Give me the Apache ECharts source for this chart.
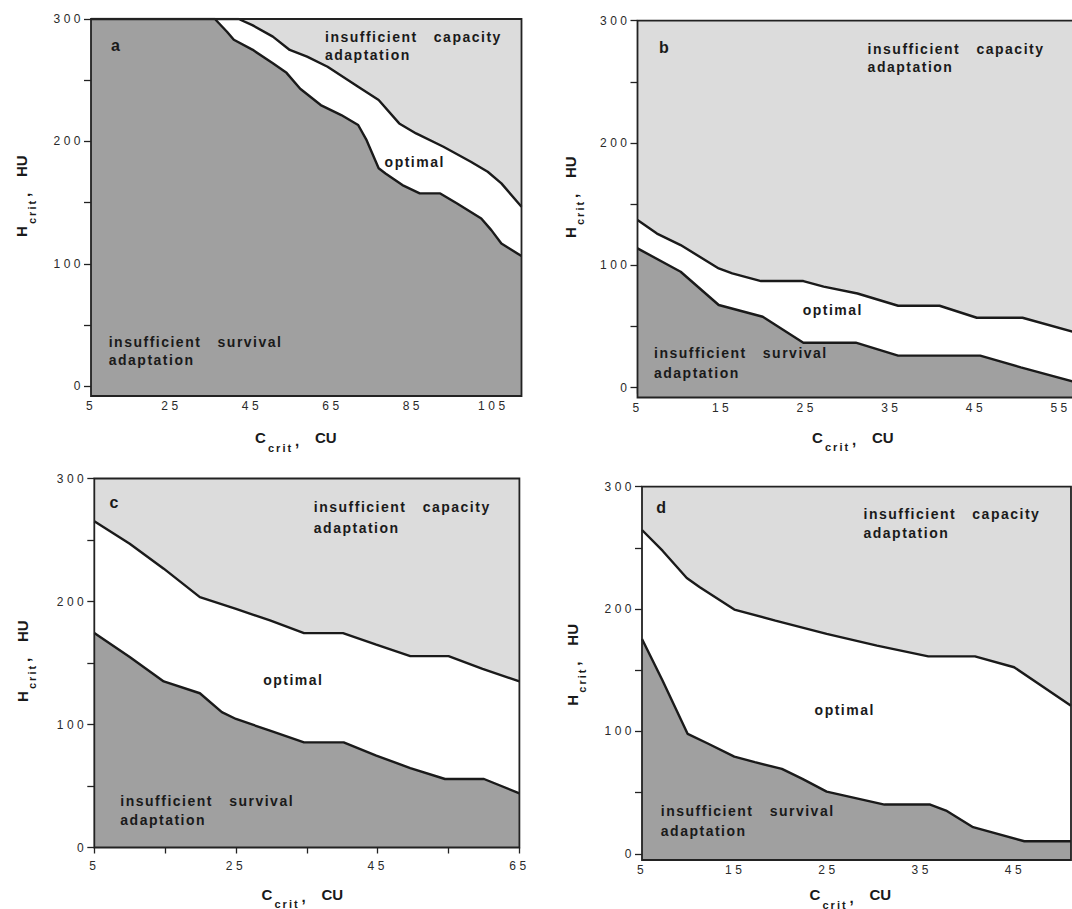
<!DOCTYPE html>
<html>
<head>
<meta charset="utf-8">
<title>Critical thresholds</title>
<script src="https://cdn.jsdelivr.net/npm/echarts@6/dist/echarts.min.js"></script>
<style>
  html, body { margin: 0; padding: 0; background: #fff; }
  #main { width: 1072px; height: 909px; }
</style>
</head>
<body>
<div id="main"></div>
<script>
// Boundary curves, [C_crit (CU), H_crit (HU)]
// Panel a
const aUpper = [[5,300],[41.7,300],[45.1,295],[50.2,285.6],[54.4,274.7],[58.7,269.2],[63.8,261],[71.4,244.7],[76.5,233.8],[81.6,214.7],[85.8,206.5],[92.6,195.6],[99.4,183.4],[103.6,175.2],[107,165.7],[112,146.6]];
const aLower = [[5,300],[35.8,300],[38.8,289.6],[40.5,283],[45.1,275],[50.2,263.8],[53.6,256],[57,243],[62.1,229.7],[67.2,221.5],[71.4,213.4],[73.5,201],[76.5,178],[78.2,173.8],[82.4,164.3],[86.7,157.5],[91.8,157.5],[96,149.3],[102,137],[104.5,127.5],[107,116.6],[112,106.3]];
// Panel b
const bUpper = [[5,137],[7.3,126],[10.1,116.6],[14.6,97.5],[16.2,93.5],[19.6,87.2],[24.6,87.2],[27,82.6],[31,77],[35.8,67],[40.7,67],[45.1,57.2],[50.5,57.2],[56.4,45.8]];
const bLower = [[5,113.9],[10.1,94.8],[14.6,67.6],[19.8,58],[24.6,36.8],[30.8,36.8],[35.8,26.2],[45.5,26.2],[50.3,16.6],[56.4,5.2]];
// Panel c
const cUpper = [[5,265.3],[10,247],[14.8,226.7],[19.9,203.6],[25,194],[29.8,184.6],[34.6,174.3],[40.1,174.3],[44.8,165],[49.6,155.6],[55,155.6],[59.8,145.3],[65,135]];
const cLower = [[5,174.3],[10,154.8],[14.8,135],[19.9,125.4],[23,110],[25,104.5],[29.8,95],[34.6,85.5],[40.2,85.5],[44.8,74.7],[49.6,64.6],[54.5,55.7],[60,55.7],[65,44]];
// Panel d
const dUpper = [[5,264.6],[7.2,247.7],[9.8,225.4],[11.2,217.8],[14.9,199.6],[19.3,190.6],[24.8,179.7],[30.2,170.2],[35.7,161.4],[40.7,161.4],[44.9,152.5],[51,121]];
const dLower = [[5,175.6],[7.2,141.6],[9.9,98],[12,90.4],[14.9,79.5],[17.1,74.9],[20,69.4],[22.2,61.3],[24.8,50.9],[31,40.3],[35.9,40.3],[37.6,35.4],[40.5,21.8],[46,10.3],[51,10.3]];

// Tick values
const yLabelVals = [0, 100, 200, 300];
const yTickVals = [0, 50, 100, 150, 200, 250, 300];
const aXLabels = [5, 25, 45, 65, 85, 105];
const bXLabels = [5, 15, 25, 35, 45, 55];
const cXLabels = [5, 25, 45, 65];
const cXTicks = [5, 15, 25, 35, 45, 55, 65];
const dXLabels = [5, 15, 25, 35, 45];

// Region names
const panelLetters = ['a', 'b', 'c', 'd'];
const capacityText = ['insufficient\u00A0\u00A0\u00A0capacity', 'adaptation'];
const survivalText = ['insufficient\u00A0\u00A0\u00A0survival', 'adaptation'];
const optimalText = 'optimal';

const FONT = '"Liberation Sans", Arial, Helvetica, sans-serif';
const LIGHT = '#dcdcdc';
const DARK = '#a0a0a0';
const INK = '#1a1a1a';

// Panel layout (pixels) and axis extents
const panels = [
  { box: [91, 19, 521.5, 396],  x: [5, 112],  yMin: -8, upper: aUpper, lower: aLower,
    xLabels: aXLabels, xTicks: aXLabels, xMargin: 4,
    letter: [111, 45], cap: [325, 36.7, 55], opt: [384.6, 161.7], surv: [108.7, 341.7, 360],
    xTitle: [255, 437.5], yTitle: [21.7, 237] },
  { box: [637.5, 20.7, 1074, 397.5], x: [5, 56.35], yMin: -8, upper: bUpper, lower: bLower,
    xLabels: bXLabels, xTicks: bXLabels, xMargin: 4,
    letter: [659, 47.7], cap: [867.6, 49.3, 66.7], opt: [802.7, 310], surv: [654, 352.7, 372.7],
    xTitle: [812, 437], yTitle: [570, 238] },
  { box: [94.3, 478.5, 519.4, 847.5], x: [5, 65], yMin: 0, upper: cUpper, lower: cLower,
    xLabels: cXLabels, xTicks: cXTicks, xMargin: 12,
    letter: [109.4, 502.3], cap: [313.8, 507.3, 528], opt: [263.2, 679.7], surv: [120.3, 800.7, 820],
    xTitle: [261.5, 894], yTitle: [22, 702] },
  { box: [642, 486.7, 1071, 860], x: [5, 51], yMin: -5, upper: dUpper, lower: dLower,
    xLabels: dXLabels, xTicks: dXLabels, xMargin: 4,
    letter: [656.3, 507.3], cap: [863.5, 514, 533], opt: [814.6, 709.7], surv: [660.8, 811.3, 830.7],
    xTitle: [809.5, 894.5], yTitle: [572, 705.7] }
];

function label(x, y, text, font, color) {
  return {
    type: 'text', x: x, y: y, z: 120, silent: true,
    style: { text: text, font: font, fill: color || INK, textAlign: 'left', textVerticalAlign: 'middle' }
  };
}

// Axis title: main letter, spaced subscript "crit", comma, unit
function axisTitle(pos, main, unit, rotated) {
  return {
    type: 'group', x: pos[0], y: pos[1], rotation: rotated ? Math.PI / 2 : 0, z: 120, silent: true,
    children: [
      label(0, 0, main, 'bold 15px ' + FONT),
      label(13, 10, 'crit', 'bold 11px ' + FONT),
      label(40, 2.5, ',', 'bold 15px ' + FONT),
      label(60, 0, unit, 'bold 15px ' + FONT)
    ]
  };
}

const grids = [], xAxes = [], yAxes = [], series = [], graphics = [];

panels.forEach(function (p, i) {
  const [l, t, r, b] = p.box;
  grids.push({ left: l, top: t, width: r - l, height: b - t, show: true,
    backgroundColor: LIGHT, borderWidth: 0, containLabel: false });
  xAxes.push({
    gridIndex: i, type: 'value', min: p.x[0], max: p.x[1],
    axisLine: { show: false }, splitLine: { show: false },
    axisTick: { show: true, length: 6, customValues: p.xTicks, lineStyle: { color: '#222', width: 1.3 } },
    axisLabel: { customValues: p.xLabels, margin: p.xMargin, fontSize: 12, color: '#2a2a2a', fontFamily: FONT }
  });
  yAxes.push({
    gridIndex: i, type: 'value', min: p.yMin, max: 300,
    axisLine: { show: false }, splitLine: { show: false },
    axisTick: { show: true, length: 7, customValues: yTickVals, lineStyle: { color: '#222', width: 1.3 } },
    axisLabel: { customValues: yLabelVals, margin: 7, fontSize: 12, color: '#2a2a2a', fontFamily: FONT }
  });
  series.push({
    type: 'line', xAxisIndex: i, yAxisIndex: i, data: p.upper, showSymbol: false, silent: true, z: 2,
    lineStyle: { color: INK, width: 2.4 },
    areaStyle: { color: '#ffffff', opacity: 1, origin: 'start' }
  });
  series.push({
    type: 'line', xAxisIndex: i, yAxisIndex: i, data: p.lower, showSymbol: false, silent: true, z: 3,
    lineStyle: { color: INK, width: 2.4 },
    areaStyle: { color: DARK, opacity: 1, origin: 'start' }
  });

  // frame
  graphics.push({ type: 'rect', z: 110, silent: true,
    shape: { x: l, y: t, width: r - l, height: b - t },
    style: { fill: 'none', stroke: '#222', lineWidth: 1.8 } });

  const boldRegion = 'bold 14px ' + FONT;
  graphics.push(label(p.letter[0], p.letter[1], panelLetters[i], 'bold 16px ' + FONT));
  graphics.push(label(p.cap[0], p.cap[1], capacityText[0], boldRegion));
  graphics.push(label(p.cap[0], p.cap[2], capacityText[1], boldRegion));
  graphics.push(label(p.opt[0], p.opt[1], optimalText, boldRegion));
  graphics.push(label(p.surv[0], p.surv[1], survivalText[0], boldRegion));
  graphics.push(label(p.surv[0], p.surv[2], survivalText[1], boldRegion));
  graphics.push(axisTitle(p.xTitle, 'C', 'CU', false));
  graphics.push(axisTitle(p.yTitle, 'H', 'HU', true));
});

const chart = echarts.init(document.getElementById('main'), null, { renderer: 'svg' });
chart.setOption({
  animation: false,
  backgroundColor: '#ffffff',
  grid: grids,
  xAxis: xAxes,
  yAxis: yAxes,
  series: series,
  graphic: graphics
});

// Wide letter spacing of the typeset labels
function spaceLetters() {
  const spacing = { 12: '3.5px', 14: '1.5px', 11: '2px' };
  document.querySelectorAll('#main text').forEach(function (el) {
    const fs = Math.round(parseFloat(getComputedStyle(el).fontSize));
    if (spacing[fs]) el.style.letterSpacing = spacing[fs];
  });
}
chart.on('finished', spaceLetters);
spaceLetters();
</script>
</body>
</html>
